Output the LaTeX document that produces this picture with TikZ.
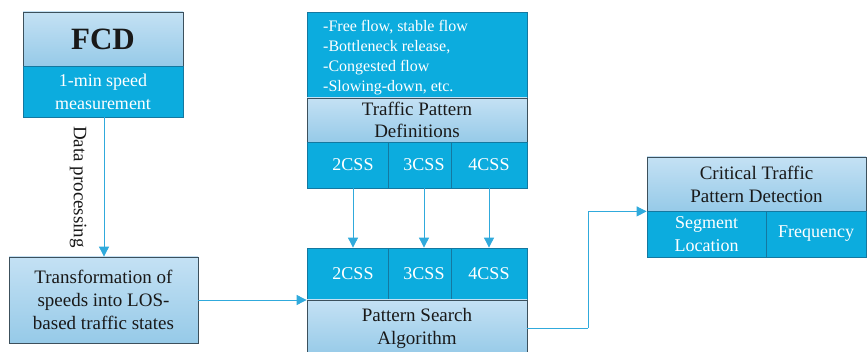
\documentclass[tikz,border=0pt]{standalone}
\usepackage{fontspec}
\setmainfont{Liberation Serif}
\usetikzlibrary{arrows.meta}
\definecolor{cellcyan}{RGB}{12,172,222}
\definecolor{cellborder}{RGB}{20,120,160}
\definecolor{lighttop}{RGB}{196,225,244}
\definecolor{lightbot}{RGB}{150,202,232}
\definecolor{boxborder}{RGB}{60,80,92}
\definecolor{linkcol}{RGB}{48,170,220}
\tikzset{
  lightcell/.style={draw=boxborder, line width=0.8pt, top color=lighttop, bottom color=lightbot,
    inner sep=0pt, align=center, text=black!90, font=\fontsize{18}{22}\selectfont},
  cyancell/.style={draw=cellborder, line width=0.8pt, fill=cellcyan,
    inner sep=0pt, align=center, text=white, font=\fontsize{18}{23}\selectfont},
  link/.style={draw=linkcol, line width=0.9pt, -{Triangle[length=10pt,width=10pt]}},
  plainlink/.style={draw=linkcol, line width=0.9pt},
}
\begin{document}
\begin{tikzpicture}[x=1pt,y=-1pt]
\clip (0,0) rectangle (867,352);
\fill[white] (0,0) rectangle (867,352);

% FCD source
\node[lightcell, minimum width=160pt, minimum height=54pt, font=\bfseries\fontsize{31}{31}\selectfont]
  (fcd) at (103,39) {FCD};
\node[cyancell, minimum width=160pt, minimum height=51pt] (fcdsub) at (103,91.5)
  {1-min speed\\measurement};

% LOS transformation
\node[lightcell, minimum width=189pt, minimum height=86pt, font=\fontsize{19}{23}\selectfont]
  (trans) at (103.5,300) {Transformation of\\speeds into LOS-\\based traffic states};

% Traffic pattern definitions
\node[cyancell, minimum width=220pt, minimum height=86pt] (defs) at (417,55) {};
\node[anchor=west, align=left, inner sep=0pt, text=white, font=\fontsize{16}{20}\selectfont]
  (defstext) at (323,58)
  {-Free flow, stable flow\\-Bottleneck release,\\-Congested flow\\-Slowing-down, etc.};
\node[lightcell, minimum width=220pt, minimum height=44pt, font=\fontsize{19}{22}\selectfont]
  (tpd) at (417,120) {Traffic Pattern\\Definitions};
\node[cyancell, minimum width=81pt, minimum height=46pt] (ta) at (347.5,165) {\hspace*{11pt}2CSS};
\node[cyancell, minimum width=63pt, minimum height=46pt] (tb) at (419.5,165) {\hspace*{9pt}3CSS};
\node[cyancell, minimum width=76pt, minimum height=46pt] (tc) at (489,165) {4CSS};

% Pattern search
\node[cyancell, minimum width=81pt, minimum height=52pt] (ba) at (347.5,274) {\hspace*{11pt}2CSS};
\node[cyancell, minimum width=63pt, minimum height=52pt] (bb) at (419.5,274) {\hspace*{9pt}3CSS};
\node[cyancell, minimum width=76pt, minimum height=52pt] (bc) at (489,274) {4CSS};
\node[lightcell, minimum width=220pt, minimum height=56pt, font=\fontsize{19}{23}\selectfont]
  (psa) at (417,328) {Pattern Search\\Algorithm};

% Critical pattern detection
\node[lightcell, minimum width=219pt, minimum height=54pt, font=\fontsize{19}{23}\selectfont]
  (crit) at (756.5,184) {Critical Traffic\\Pattern Detection};
\node[cyancell, minimum width=119pt, minimum height=46pt] (seg) at (706.5,234) {Segment\\Location};
\node[cyancell, minimum width=100pt, minimum height=46pt] (freq) at (816,234) {Frequency};

% Connectors
\draw[link] ([xshift=1pt]fcdsub.south) -- ([xshift=1pt]fcdsub.south |- trans.north)
  node[midway, xshift=-17pt, rotate=-90, anchor=north, inner sep=0pt,
       font=\fontsize{19}{19}\selectfont, text=black!90]
  (dp) {Data processing};
\draw[link] (trans.east) -- (trans.east -| psa.west);
\draw[link] ([xshift=5.5pt]ta.south) -- ([xshift=5.5pt]ba.north);
\draw[link] ([xshift=4.5pt]tb.south) -- ([xshift=4.5pt]bb.north);
\draw[link] (tc.south) -- (bc.north);
\coordinate (bend) at (588,328);
\draw[plainlink] (psa.east) -- (bend);
\draw[link] (bend) |- (crit.south west);
\end{tikzpicture}
\end{document}
